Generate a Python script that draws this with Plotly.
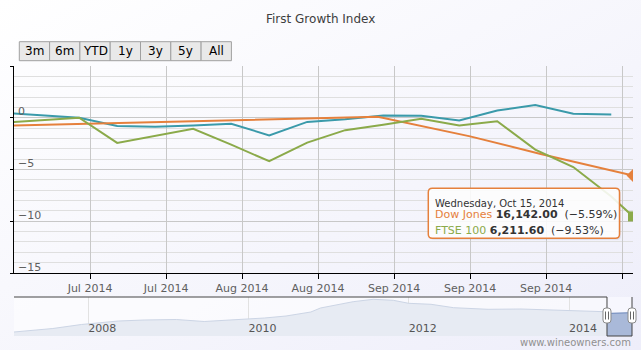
import base64
import pandas as pd
import plotly.graph_objects as go

# ---------------- data ----------------
week_dates = ["2014-06-21", "2014-06-28", "2014-07-05", "2014-07-12", "2014-07-19",
              "2014-07-26", "2014-08-02", "2014-08-09", "2014-08-16", "2014-08-23",
              "2014-08-30", "2014-09-06", "2014-09-13", "2014-09-20", "2014-09-27",
              "2014-10-04", "2014-10-11"]
first_growth = [0.49, 0.28, 0.0, -0.8, -0.87, -0.75, -0.58, -1.7, -0.4, -0.15,
                0.22, 0.2, -0.26, 0.7, 1.22, 0.39, 0.32]

ftse_dates = week_dates + ["2014-10-15"]
ftse = [-0.47, -0.24, 0.0, -2.43, -1.72, -1.07, -2.6, -4.2, -2.4, -1.2,
        -0.68, -0.1, -0.75, -0.33, -3.08, -4.76, -7.6, -9.53]

dow_dates = ["2014-06-21", "2014-08-29", "2014-09-15", "2014-09-28", "2014-10-15"]
dow = [-0.77, 0.1, -1.8, -3.5, -5.59]

nav_dates = ["2007-01-28", "2007-04-12", "2007-07-24", "2007-12-01", "2008-05-18",
             "2008-09-12", "2009-02-06", "2009-06-13", "2009-12-16", "2010-03-15",
             "2010-06-21", "2010-10-12", "2010-11-25", "2011-01-22", "2011-04-23",
             "2011-07-23", "2011-10-23", "2012-01-01", "2012-04-12", "2012-07-24",
             "2012-12-28", "2013-05-27", "2013-10-23", "2014-03-28", "2014-06-10",
             "2014-07-13", "2014-10-15"]
nav_vals = [4, 5.5, 7.5, 11.5, 15, 16, 16.5, 14.5, 16.5, 18, 20, 24, 28, 30.3, 34.3,
            36.7, 35.7, 32.7, 31.7, 28.3, 26.7, 27, 26, 25, 24.3, 22.7, 23.3]

x_tick_dates = ["2014-07-07", "2014-07-21", "2014-08-04", "2014-08-18",
                "2014-09-01", "2014-09-15", "2014-09-29", "2014-10-13"]
x_tick_text = ["Jul 2014", "Jul 2014", "Aug 2014", "Aug 2014",
               "Sep 2014", "Sep 2014", "Sep 2014", "Oct 2014"]
y_tick_vals = [-15, -10, -5, 0, 5]
y_label_vals = [-15, -10, -5, 0]
y_label_text = ["\u221215", "\u221210", "\u22125", "0"]
nav_tick_dates = ["2008-01-01", "2010-01-01", "2012-01-01", "2014-01-01"]
nav_tick_text = ["2008", "2010", "2012", "2014"]
range_buttons = ["3m", "6m", "YTD", "1y", "3y", "5y", "All"]

main_range = ["2014-06-23", "2014-10-15"]
nav_range = ["2007-01-28", "2014-10-15"]

TEAL = "#3A9AAA"
ORANGE = "#E5803C"
GREEN = "#8BAA4A"
FONT = "DejaVu Sans"

# ---------------- geometry helpers ----------------
W, H = 641, 350
L, R, T, B = 14, 8, 66, 14
PW = W - L - R
PH = H - T - B


def px(x):
    return (x - L) / PW


def py(y):
    return (H - B - y) / PH


def rrect(x0, y0, x1, y1, r):
    p = [f"M {px(x0 + r)} {py(y0)}",
         f"L {px(x1 - r)} {py(y0)}",
         f"Q {px(x1)} {py(y0)} {px(x1)} {py(y0 + r)}",
         f"L {px(x1)} {py(y1 - r)}",
         f"Q {px(x1)} {py(y1)} {px(x1 - r)} {py(y1)}",
         f"L {px(x0 + r)} {py(y1)}",
         f"Q {px(x0)} {py(y1)} {px(x0)} {py(y1 - r)}",
         f"L {px(x0)} {py(y0 + r)}",
         f"Q {px(x0)} {py(y0)} {px(x0 + r)} {py(y0)}", "Z"]
    return " ".join(p)


nav_right = px(632)
t0, t1 = pd.Timestamp(nav_range[0]), pd.Timestamp(nav_range[1])
sel0 = nav_right * (pd.Timestamp(main_range[0]) - t0) / (t1 - t0)
sel0_px = L + sel0 * PW

fig = go.Figure()

# main series
fig.add_trace(go.Scatter(x=week_dates, y=first_growth, mode="lines",
                         line=dict(color=TEAL, width=2), name="First Growth"))
fig.add_trace(go.Scatter(x=dow_dates, y=dow, mode="lines",
                         line=dict(color=ORANGE, width=2), name="Dow Jones"))
fig.add_trace(go.Scatter(x=ftse_dates, y=ftse, mode="lines",
                         line=dict(color=GREEN, width=2), name="FTSE 100"))
# hover markers on last points
fig.add_trace(go.Scatter(x=dow_dates[-1:], y=dow[-1:], mode="markers",
                         marker=dict(symbol="diamond", size=10, color=ORANGE)))
fig.add_trace(go.Scatter(x=ftse_dates[-1:], y=ftse[-1:], mode="markers",
                         marker=dict(symbol="square", size=10, color=GREEN)))

# navigator
fig.add_trace(go.Scatter(x=nav_dates, y=nav_vals, mode="lines", xaxis="x2", yaxis="y2",
                         fill="tozeroy", fillcolor="#E7EBF3",
                         line=dict(color="#CCD5E5", width=1)))
fig.add_trace(go.Scatter(x=nav_dates, y=nav_vals, mode="lines", xaxis="x3", yaxis="y2",
                         fill="tozeroy", fillcolor="#A9B9D9",
                         line=dict(color="#6E89BC", width=1)))

shapes = []
# navigator background
shapes.append(dict(type="rect", xref="paper", yref="paper", x0=0, x1=nav_right,
                   y0=0, y1=py(297), fillcolor="rgba(255,255,255,0.55)",
                   line=dict(width=0), layer="below"))
# navigator outline
shapes.append(dict(type="path", xref="paper", yref="paper",
                   path=(f"M {px(14)} {py(297)} L {sel0} {py(297)} L {sel0} {py(336)} "
                         f"L {nav_right} {py(336)} L {nav_right} {py(297)}"),
                   line=dict(color="#444444", width=1)))
# handles
for hx in (sel0_px, L + nav_right * PW):
    shapes.append(dict(type="path", xref="paper", yref="paper",
                       path=rrect(hx - 4, 308, hx + 4, 323, 3),
                       fillcolor="#FFFFFF", line=dict(color="#8A8A8A", width=1)))
    for dx in (-1.5, 1.5):
        shapes.append(dict(type="line", xref="paper", yref="paper",
                           x0=px(hx + dx), x1=px(hx + dx), y0=py(311.5), y1=py(319.5),
                           line=dict(color="#666666", width=1)))
# range selector buttons
bx0, bw = 19.3, 30.3
for i, _ in enumerate(range_buttons):
    shapes.append(dict(type="rect", xref="paper", yref="paper",
                       x0=px(bx0 + i * bw), x1=px(bx0 + (i + 1) * bw),
                       y0=py(41.7), y1=py(60.7), fillcolor="#E9E9E9",
                       line=dict(color="#A0A0A0", width=1)))
# tooltip box
shapes.append(dict(type="path", xref="paper", yref="paper",
                   path=rrect(430, 190, 621, 240, 4), fillcolor="rgba(0,0,0,0.06)",
                   line=dict(width=0)))
shapes.append(dict(type="path", xref="paper", yref="paper",
                   path=rrect(428.3, 188.3, 619.5, 238.3, 4),
                   fillcolor="rgba(255,255,255,0.88)", line=dict(color=ORANGE, width=1.5)))

annotations = []
# y-axis labels, drawn just above their gridlines inside the plot
for v, t in zip(y_label_vals, y_label_text):
    annotations.append(dict(xref="paper", yref="y", x=px(16), y=v, text=t,
                            showarrow=False, xanchor="left", yanchor="middle",
                            yshift=6, font=dict(family=FONT, size=11, color="#606060")))
for i, lab in enumerate(range_buttons):
    annotations.append(dict(xref="paper", yref="paper", x=px(bx0 + (i + 0.5) * bw),
                            y=py(51.2), text=lab, showarrow=False,
                            font=dict(family=FONT, size=12, color="#000000"),
                            xanchor="center", yanchor="middle"))
annotations.append(dict(xref="paper", yref="paper", x=px(320.5), y=py(19),
                        text="First Growth Index", showarrow=False,
                        font=dict(family=FONT, size=12, color="#3E3E3E"),
                        xanchor="center", yanchor="middle"))
annotations.append(dict(xref="paper", yref="paper", x=px(633), y=py(342.5),
                        text="www.wineowners.com", showarrow=False,
                        font=dict(family=FONT, size=10, color="#909090"),
                        xanchor="right", yanchor="middle"))
annotations.append(dict(xref="paper", yref="paper", x=px(433), y=py(203),
                        text="Wednesday, Oct 15, 2014", showarrow=False,
                        font=dict(family=FONT, size=10, color="#333333"),
                        xanchor="left", yanchor="middle"))
annotations.append(dict(xref="paper", yref="paper", x=px(433), y=py(214.5),
                        text=(f"<span style='color:{ORANGE}'>Dow Jones</span> "
                              "<b>16,142.00</b>\u00a0 (\u22125.59%)"),
                        showarrow=False, font=dict(family=FONT, size=11, color="#333333"),
                        xanchor="left", yanchor="middle"))
annotations.append(dict(xref="paper", yref="paper", x=px(433), y=py(230),
                        text=(f"<span style='color:{GREEN}'>FTSE 100</span> "
                              "<b>6,211.60</b>\u00a0 (\u22129.53%)"),
                        showarrow=False, font=dict(family=FONT, size=11, color="#333333"),
                        xanchor="left", yanchor="middle"))

svg = ("<svg xmlns='http://www.w3.org/2000/svg' width='641' height='350'>"
       "<defs><linearGradient id='g' x1='0' y1='0' x2='1' y2='1'>"
       "<stop offset='0' stop-color='#FFFFFF'/><stop offset='1' stop-color='#EEEEFA'/>"
       "</linearGradient></defs><rect width='641' height='350' fill='url(#g)'/></svg>")
bg_src = "data:image/svg+xml;base64," + base64.b64encode(svg.encode()).decode()

fig.update_layout(
    width=W, height=H,
    margin=dict(l=L, r=R, t=T, b=B, pad=0),
    paper_bgcolor="#FFFFFF",
    plot_bgcolor="rgba(246,246,255,0.45)",
    showlegend=False,
    hovermode=False,
    font=dict(family=FONT, size=11, color="#606060"),
    images=[dict(source=bg_src, xref="paper", yref="paper", x=px(0), y=py(0),
                 sizex=W / PW, sizey=H / PH, sizing="stretch", layer="below",
                 xanchor="left", yanchor="top")],
    xaxis=dict(domain=[0, 1], anchor="y", range=main_range, type="date",
               tickmode="array", tickvals=x_tick_dates, ticktext=x_tick_text,
               showgrid=True, gridcolor="#C8C8C8", gridwidth=1,
               showline=True, linecolor="#000000", linewidth=1,
               ticks="outside", ticklen=5, tickcolor="#000000",
               tickfont=dict(family=FONT, size=11, color="#606060"),
               zeroline=False, fixedrange=True),
    yaxis=dict(domain=[py(273), 1], anchor="x", range=[-15, 5],
               tickmode="array", tickvals=y_tick_vals, showticklabels=False,
               showgrid=True, gridcolor="#C8C8C8", gridwidth=1,
               minor=dict(dtick=1, showgrid=True, gridcolor="#DFDFDF", ticklen=0),
               showline=True, linecolor="#000000", linewidth=1,
               ticks="outside", ticklen=3, tickcolor="#000000",
               zeroline=False, fixedrange=True),
    xaxis2=dict(domain=[0, nav_right], anchor="y2", range=nav_range, type="date",
                tickmode="array", tickvals=nav_tick_dates, ticktext=nav_tick_text,
                showgrid=True, gridcolor="#E2E2E2", showline=False,
                ticks="", ticklabelposition="inside right", ticklabelstandoff=-4,
                tickfont=dict(family=FONT, size=11, color="#555555"),
                zeroline=False, fixedrange=True),
    xaxis3=dict(domain=[sel0, nav_right], anchor="y2", range=main_range, type="date",
                visible=False, fixedrange=True),
    yaxis2=dict(domain=[0, py(297)], anchor="x2", range=[0, 39], visible=False,
                fixedrange=True),
    shapes=shapes,
    annotations=annotations,
)

fig.write_html("out.html")
